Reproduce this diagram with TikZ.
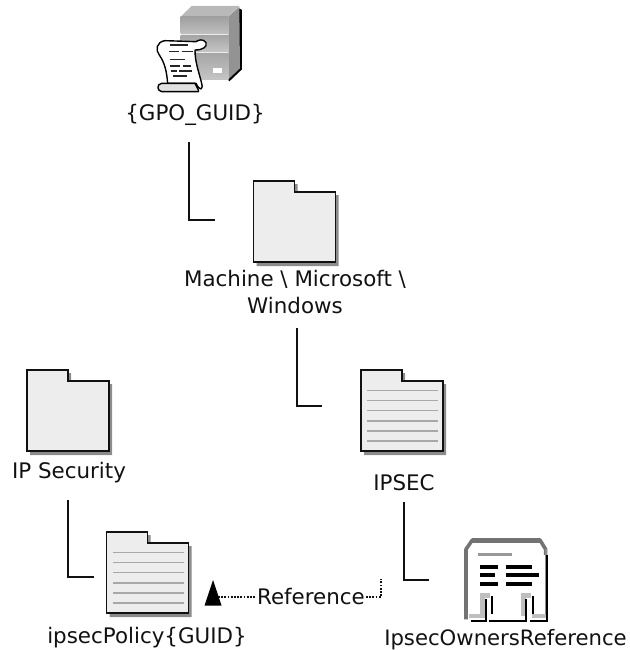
\documentclass[tikz,border=0pt]{standalone}
\usepackage{fontspec}
\setmainfont{DejaVu Sans}
\definecolor{fill1}{HTML}{EDEDED}
\definecolor{shade1}{HTML}{8C8C8C}
\definecolor{rule1}{HTML}{A8A8A8}
\definecolor{ink}{HTML}{111111}
\tikzset{
  x=1pt,y=-1pt,
  lbl/.style={font=\fontsize{21.4pt}{27pt}\selectfont,text=ink,inner sep=0pt,align=center},
  conn/.style={draw=ink,line width=1.4pt,line join=miter},
  dots/.style={draw=ink,line width=1.2pt,dash pattern=on 1.8pt off 1.4pt},
  foldline/.style={draw=rule1,line width=1.7pt},
  pics/folder/.style={code={
    \fill[shade1] (3,3)--(44,3)--(44,14)--(85,14)--(85,85)--(3,85)--cycle;
    \draw[fill=fill1,draw=ink,line width=1.8pt,line join=miter]
      (0,0)--(41,0)--(41,11)--(82,11)--(82,81)--(0,81)--cycle;
  }},
  pics/foldlines/.style={code={
    \foreach \yy in {20.5,30.5,40.5,51,61,71}{\draw[foldline] (6,\yy)--(77,\yy);}
  }},
}
\begin{document}
\begin{tikzpicture}
\useasboundingbox (0,0) rectangle (629,650);
% labels
\node[lbl] (gpo) at (195,115) {\{GPO\_GUID\}};
\node[lbl] (mach) at (295,292.5) {Machine \textbackslash{} Microsoft \textbackslash{}\\Windows};
\node[lbl] (ipsecurity) at (69,473) {IP Security};
\node[lbl] (ipsec) at (404,483) {IPSEC};
\node[lbl] (policy) at (147,637.5) {ipsecPolicy\{GUID\}};
\node[lbl,font=\fontsize{21.2pt}{27pt}\selectfont] (owners) at (505.5,640) {IpsecOwnersReference};
\node[lbl,inner xsep=1pt] (ref) at (311,597) {Reference};
% folders
\pic at (253.5,181) {folder};
\pic at (361,370) {folder};
\pic at (361,370) {foldlines};
\pic at (27,370) {folder};
\pic at (106.5,532) {folder};
\pic at (106.5,532) {foldlines};
% connector ends
\coordinate (c1a) at (189,142); \coordinate (c1b) at (215,220);
\coordinate (c2a) at (297,328); \coordinate (c2b) at (322,406);
\coordinate (c3a) at (68,500);  \coordinate (c3b) at (94,577);
\coordinate (c4a) at (404,502); \coordinate (c4b) at (429,580);
\draw[conn] (c1a) |- (c1b);
\draw[conn] (c2a) |- (c2b);
\draw[conn] (c3a) |- (c3b);
\draw[conn] (c4a) |- (c4b);
% reference arrow
\coordinate (tipA) at (213,580);
\coordinate (baseL) at (204.5,605.5);
\coordinate (baseR) at (221.5,605.5);
\coordinate (refEnd) at (381,579);
\fill[black] (tipA)--(baseR)--(baseL)--cycle;
\draw[dots] (218,597) -- (ref.west);
\draw[dots] (ref.east) -| (refEnd);
% server icon
\begin{scope}[shift={(120,0)},x=0.3333pt,y=-0.3333pt]
  \fill[black] (358,25)--(366,30)--(366,208)--(328,244)--(325,240)--cycle;
  \fill[gray!85] (325,50)--(358,20)--(360,205)--(325,238)--cycle;
  \fill[gray!55] (182,50)--(215,18)--(358,18)--(325,50)--cycle;
  \fill[white!85!gray] (182,50) rectangle (325,240);
  \shade[top color=gray!75,bottom color=gray!50] (182,50) rectangle (325,102);
  \shade[top color=gray!70,bottom color=gray!45] (182,107) rectangle (325,155);
  \shade[top color=gray!70,bottom color=gray!45] (182,160) rectangle (325,240);
  \fill[white] (278,203) rectangle (305,218);
  % scroll
  \draw[fill=white,draw=black,line width=1.4pt,line join=round]
    (135,122) .. controls (110,125) and (105,150) .. (118,165)
    .. controls (135,190) and (140,215) .. (143,250)
    -- (228,250) .. controls (240,275) and (250,270) .. (245,250)
    .. controls (235,210) and (225,185) .. (225,150)
    .. controls (250,150) and (262,140) .. (258,128)
    .. controls (250,115) and (235,120) .. (228,125) -- cycle;
  \draw[fill=black!12,draw=black,line width=1.4pt,line join=round]
    (125,250) -- (225,250) .. controls (232,265) and (238,272) .. (235,275)
    -- (125,275) .. controls (110,272) and (110,252) .. (125,250) -- cycle;
  \foreach \xa/\xb/\yy in {150/205/135,148/178/155,185/218/155,150/195/178,150/180/198,188/212/198,152/170/213,178/215/213,160/200/228}{
    \draw[black!85,line width=1.3pt] (\xa,\yy)--(\xb,\yy);}
\end{scope}
% owners icon
\begin{scope}[shift={(380,490)},x=0.3333pt,y=-0.3333pt]
  \fill[white] (258,178)--(277,150)--(480,150)--(497,178)--(497,380)--(258,380)--cycle;
  \draw[black!55,line width=3.6pt,line join=round]
    (258,388)--(258,178)--(277,150)--(480,150)--(497,178)--(497,195);
  \draw[black!55,line width=5pt] (277,150)--(480,150);
  \draw[black!45,line width=2pt] (497,178)--(497,378);
  \draw[black!25,line width=4.4pt,line join=miter]
    (268,378)--(308,378)--(308,316)--(329,316)
    (431,378)--(431,316)--(452,316)
    (455,378)--(497,378);
  \draw[black,line width=2pt,line join=miter]
    (272,392)--(318,392)--(318,326)
    (337,318)--(337,372)
    (328,392)--(438,392)--(438,326)
    (458,318)--(458,372)
    (450,392)--(502,392)--(502,195);
  \draw[black!40,line width=2.4pt] (293,194)--(395,194);
  \draw[black,line width=3.8pt]
    (300,232)--(355,232) (378,232)--(456,232)
    (300,256)--(345,256) (378,256)--(478,256)
    (300,281)--(355,281) (378,281)--(456,281);
\end{scope}
\end{tikzpicture}
\end{document}
